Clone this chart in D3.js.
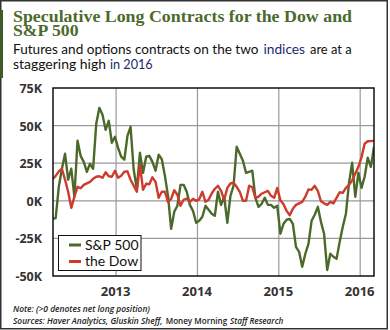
<!DOCTYPE html>
<html><head><meta charset="utf-8">
<script src="https://cdn.jsdelivr.net/npm/d3@7"></script>
<style>
html,body{margin:0;padding:0;background:#fff;}
svg{display:block;}
</style></head>
<body>
<svg id="chart" width="390" height="330"></svg>
<script>
// ---- data (thousands of contracts, bi-weekly from late March 2012) ----
const seriesNames = ["S&P 500", "the Dow"];
const sp500 = [-11.8,-11.6,9.3,21.3,31.3,14,21.3,2.7,39.9,29.9,25.9,19.3,24.6,21.3,51.2,61.8,57.2,47.2,53.2,38.6,
  42.6,35.2,29.3,27.3,43.2,49.2,20.6,8,31.9,18.6,29.3,29.9,25.9,20,30.6,27.6,16.6,3.3,-18.6,-7.3,
  -3.3,10.6,10.6,6,-2.7,-6.7,-14.6,-13.3,-10.6,-3.3,-6,-8.6,-10,6,-2.7,2.7,-14.6,3.3,10,36,
  31.3,26.6,18.6,19.3,20,2,-4,-2,2,-2.7,-2.7,-4.7,-3.3,-21.9,-15.3,-12.6,-12,-15.3,-30.6,-33.9,
  -43.9,-35.2,-28.6,-13.3,-9.3,-4,-14,-21.9,-46,-35.2,-37.2,-38.6,-27.3,-17.3,-8.6,12,25.3,2.7,18.6,8.6,
  16,28.6,22.6,35.9];
const dow = [14.3,16.6,19.6,21.3,14,6,-4.7,2.7,9.3,8.3,10.6,11.6,12.6,14.6,16,16.3,15.3,19,16.3,16,
  20,15.3,16.6,19.3,19.6,14,10,6,23.9,7.3,11.3,11,15.6,12.6,2,6,6,-0.7,1.3,7,
  4,-3.3,0.7,1.5,-0.7,1.3,0,1,6,-0.7,0.7,4.9,8,10,6.6,0.7,8.6,11.5,12,9.3,
  6,0,0,10,9,2,2.7,4.7,5.7,6.6,3.3,2,8.6,0.3,-2.3,-6.7,-9.6,-5.3,-2.7,-1.7,
  -0.7,2.7,7.6,7.3,10,6.6,-0.3,-1.7,-2.7,-0.7,-1.7,2,5.7,5.3,8.6,10.6,13.6,18,22.6,28.9,
  37.9,39.6,39.7,39.9];
const yTicks = [-50, -25, 0, 25, 50, 75];
const yTickLabels = ["-50K", "-25K", "0K", "25K", "50K", "75K"];
const xTickYears = [2013, 2014, 2015, 2016];
const firstDate = new Date(2012, 2, 22);
const stepDays = 14;

const colors = ["#4b6a29", "#cc3b2c"];

const svg = d3.select("#chart");
const L = 53, R = 374, T = 88, B = 276;

// outer frame
svg.append("rect").attr("x", 0.75).attr("y", 0.75).attr("width", 386.5).attr("height", 328)
  .attr("fill", "#fff").attr("stroke", "#333").attr("stroke-width", 1.5);
svg.append("rect").attr("x", 0).attr("y", 10).attr("width", 3).attr("height", 68).attr("fill", "#3f5a26");

// helper for fitted text segments
function seg(g, xPos, yPos, len, str, fill) {
  const t = g.append("text").attr("x", xPos).attr("y", yPos)
    .attr("textLength", len).attr("lengthAdjust", "spacingAndGlyphs").text(str);
  if (fill) t.attr("fill", fill);
  return t;
}

// title
const title = svg.append("g").attr("font-family", "'Liberation Serif', 'Times New Roman', serif")
  .attr("font-weight", 700).attr("font-size", 16.5).attr("fill", "#4b6a2c");
seg(title, 13, 22, 339, "Speculative Long Contracts for the Dow and");
seg(title, 13, 35.5, 65.5, "S&P 500");

// subtitle
const sub = svg.append("g").attr("font-family", "Lato, 'Open Sans', sans-serif").attr("font-size", 14.2).attr("fill", "#111");
const navy = "#1c2a6e";
seg(sub, 13, 54, 245.5, "Futures and options contracts on the two");
seg(sub, 263.5, 54, 41.5, "indices", navy);
seg(sub, 310, 54, 41.7, "are at a");
seg(sub, 13, 68.5, 93, "staggering high");
seg(sub, 110, 68.5, 42.7, "in 2016", navy);

// scales
const x = d3.scaleTime()
  .domain([new Date(2012, 2, 24), new Date(2016, 2, 3)])
  .range([L, R]);
const y = d3.scaleLinear().domain([-50, 75]).range([B, T]);

const dates = sp500.map((_, i) => d3.timeDay.offset(firstDate, i * stepDays));

// grid
const grid = svg.append("g");
grid.selectAll("line.h").data(yTicks.slice(1, -1)).join("line")
  .attr("x1", L).attr("x2", R).attr("y1", d => y(d)).attr("y2", d => y(d))
  .attr("stroke", "#9a9a9a").attr("stroke-width", 1.2);
grid.selectAll("line.v").data(xTickYears).join("line")
  .attr("x1", d => x(new Date(d, 0, 1))).attr("x2", d => x(new Date(d, 0, 1)))
  .attr("y1", T).attr("y2", B)
  .attr("stroke", "#9a9a9a").attr("stroke-width", 1.2);

// y axis labels
const yAxis = d3.axisLeft(y).tickValues(yTicks).tickSize(0).tickPadding(11)
  .tickFormat((d, i) => yTickLabels[i]);
const ya = svg.append("g").attr("transform", `translate(${L},0)`).call(yAxis);
ya.select(".domain").remove();
ya.selectAll("text").attr("font-family", "'Open Sans', sans-serif").attr("font-weight", 700)
  .attr("font-size", 12.5).attr("fill", "#333").attr("dy", "0.36em");

// x axis labels
const xAxis = d3.axisBottom(x).tickValues(xTickYears.map(d => new Date(d, 0, 1))).tickSize(0).tickPadding(11)
  .tickFormat(d3.timeFormat("%Y"));
const xa = svg.append("g").attr("transform", `translate(0,${B})`).call(xAxis);
xa.select(".domain").remove();
xa.selectAll("text").attr("font-family", "'Open Sans', sans-serif").attr("font-weight", 700)
  .attr("font-size", 13).attr("fill", "#333").attr("dy", "0.71em").attr("dx", -1);

// lines
svg.append("clipPath").attr("id", "clip").append("rect").attr("x", L).attr("y", T).attr("width", R - L).attr("height", B - T);
const line = d3.line().x((d, i) => x(dates[i])).y(d => y(d));
const lines = svg.append("g").attr("clip-path", "url(#clip)");
[sp500, dow].forEach((s, k) => {
  lines.append("path").datum(s).attr("d", line).attr("fill", "none")
    .attr("stroke", colors[k]).attr("stroke-width", 2.4).attr("stroke-linejoin", "round");
});

// plot frame
svg.append("rect").attr("x", L).attr("y", T).attr("width", R - L).attr("height", B - T)
  .attr("fill", "none").attr("stroke", "#111").attr("stroke-width", 1.5);

// legend
const lg = svg.append("g");
lg.append("rect").attr("x", 58.5).attr("y", 235.5).attr("width", 82.5).attr("height", 35)
  .attr("fill", "#fff").attr("stroke", "#111").attr("stroke-width", 1);
seriesNames.forEach((n, k) => {
  const yy = 245 + k * 16.5;
  lg.append("line").attr("x1", 69).attr("x2", 81).attr("y1", yy).attr("y2", yy)
    .attr("stroke", colors[k]).attr("stroke-width", 3);
  lg.append("text").attr("x", 85).attr("y", yy + 4.5).attr("font-family", "Lato, 'Open Sans', sans-serif")
    .attr("font-size", 14).attr("fill", "#111").text(n);
});

// footnotes
const fn = svg.append("g").attr("font-family", "'Open Sans', sans-serif").attr("font-size", 9.2)
  .attr("fill", "#222").attr("font-weight", 600);
seg(fn, 13, 312, 137, "Note: (>0 denotes net long position)").attr("font-style", "italic");
seg(fn, 13, 323.5, 149.5, "Sources: Haver Analytics, Gluskin Sheff,").attr("font-style", "italic");
seg(fn, 165.7, 323.5, 61.5, "Money Morning");
seg(fn, 230, 323.5, 53.3, "Staff Research").attr("font-style", "italic");
</script>
</body></html>
